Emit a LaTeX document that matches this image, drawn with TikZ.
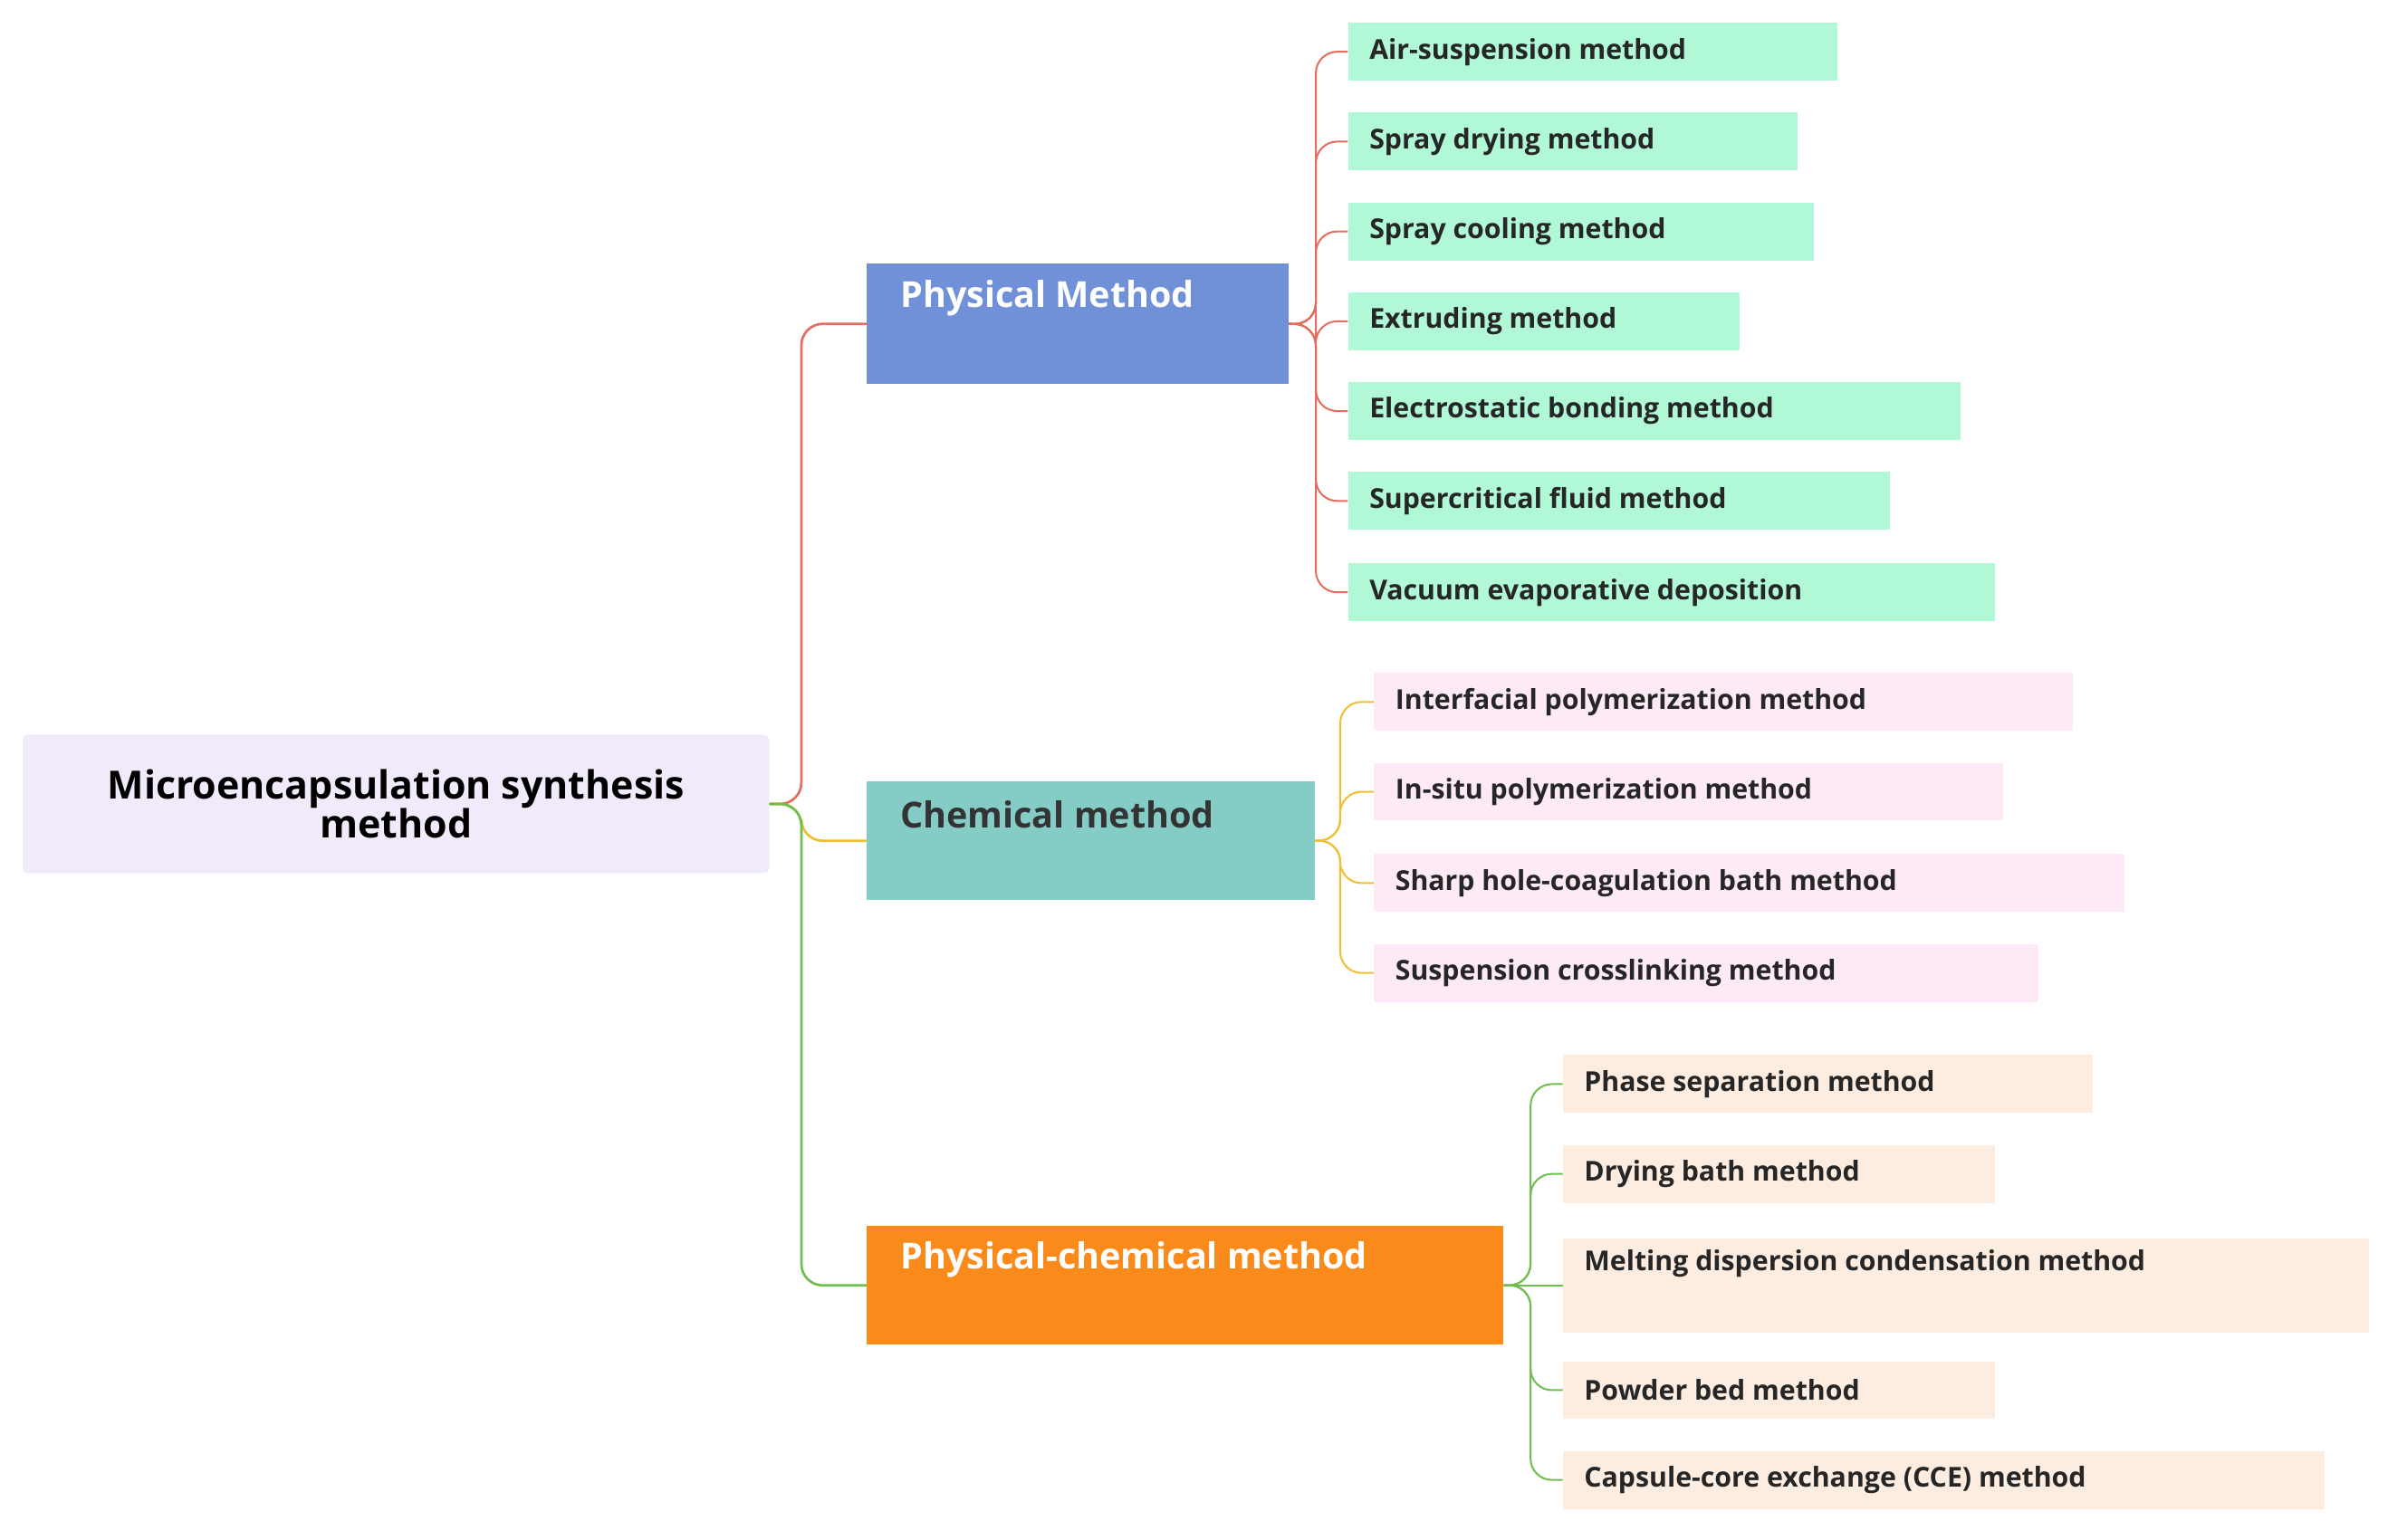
\documentclass[tikz,border=0pt]{standalone}
\usepackage{fontspec}
\setmainfont{Open Sans}
\begin{document}
\begin{tikzpicture}[x=1pt,y=-1pt,
 box/.style={draw=none,inner sep=0pt,anchor=north west},
 txt/.style={anchor=west,inner sep=0pt,font=\bfseries\fontsize{18}{21}\selectfont,text=black!85},
 mtxt/.style={anchor=west,inner sep=0pt,font=\bfseries\fontsize{23.5}{27}\selectfont},
 cr/.style={draw={rgb,255:red,226;green,110;blue,95},line width=1.6pt,rounded corners=14pt},
 cy/.style={draw={rgb,255:red,240;green,190;blue,50},line width=1.6pt,rounded corners=14pt},
 cg/.style={draw={rgb,255:red,110;green,190;blue,80},line width=1.6pt,rounded corners=14pt}]
\definecolor{lP}{HTML}{B0F8D6}\definecolor{lC}{HTML}{FDEAF6}\definecolor{lG}{HTML}{FDEDE1}
\useasboundingbox (0,0) rectangle (1568,1011);
% root
\node[box,fill={rgb,255:red,241;green,234;blue,251},minimum width=490pt,minimum height=91pt,rounded corners=3pt,align=center,font=\bfseries\fontsize{25.5}{26}\selectfont,anchor=center] (R) at (260,528) {Microencapsulation synthesis\\method};
% mains
\node[box,fill={rgb,255:red,112;green,144;blue,216},minimum width=277pt,minimum height=79pt] (P) at (569,173) {};
\node[mtxt,text=white] (Pt) at (591,196) {Physical Method};
\node[box,fill={rgb,255:red,134;green,204;blue,198},minimum width=294pt,minimum height=78pt] (C) at (569,513) {};
\node[mtxt,text=black!80] (Ct) at (591,535) {Chemical method};
\node[box,fill={rgb,255:red,250;green,138;blue,26},minimum width=418pt,minimum height=78pt] (G) at (569,805) {};
\node[mtxt,text=white] (Gt) at (591,827) {Physical-chemical method};
\draw[cr] (R.east) -- ++(21,0) |- (P.west);
\draw[cy] (R.east) -- ++(21,0) |- (C.west);
\draw[cg] (R.east) -- ++(21,0) |- (G.west);
% physical leaves
\foreach \n/\y/\r/\t in {p1/34/1206/Air-suspension method,p2/93/1180/Spray drying method,p3/152/1191/Spray cooling method,p4/211/1142/Extruding method,p5/270/1287/Electrostatic bonding method,p6/329/1241/Supercritical fluid method,p7/389/1310/Vacuum evaporative deposition}{
 \node[box,fill=lP,minimum width={\r-885},minimum height=38pt,anchor=west] (\n) at (885,\y) {};
 \node[txt] (\n t) at (899,\y) {\t};
 \draw[cr,line width=1.2pt] (P.east) -- (864,213) |- (\n.west);}
\foreach \n/\y/\r/\t in {c1/461/1361/Interfacial polymerization method,c2/520/1315/In-situ polymerization method,c3/580/1395/Sharp hole-coagulation bath method,c4/639/1338/Suspension crosslinking method}{
 \node[box,fill=lC,minimum width={\r-902},minimum height=38pt,anchor=west] (\n) at (902,\y) {};
 \node[txt] (\n t) at (916,\y) {\t};
 \draw[cy,line width=1.2pt] (C.east) -- (880,552) |- (\n.west);}
\foreach \n/\y/\r/\t in {g1/712/1374/Phase separation method,g2/771/1310/Drying bath method,g4/913/1310/Powder bed method,g5/972/1526/Capsule-core exchange (CCE) method}{
 \node[box,fill=lG,minimum width={\r-1026},minimum height=38pt,anchor=west] (\n) at (1026,\y) {};
 \node[txt] (\n t) at (1040,\y) {\t};
 \draw[cg,line width=1.2pt] (G.east) -- (1005,844) |- (\n.west);}
\node[box,fill=lG,minimum width=529pt,minimum height=62pt] (g3) at (1026,813) {};
\node[txt] (g3t) at (1040,830) {Melting dispersion condensation method};
\draw[cg,line width=1.2pt] (G.east) -- (g3.west);
\end{tikzpicture}
\end{document}
